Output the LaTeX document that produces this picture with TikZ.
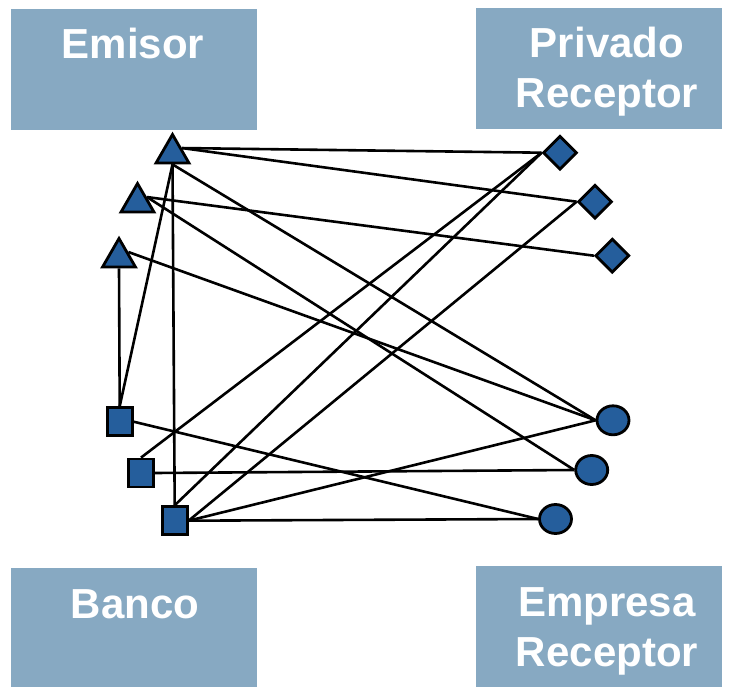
\documentclass[tikz,border=0pt]{standalone}
\usepackage{fontspec}
\setmainfont{Liberation Sans}
\usetikzlibrary{shapes.geometric,backgrounds}
\definecolor{boxblue}{RGB}{135,169,194}
\definecolor{shapeblue}{RGB}{37,94,156}
\begin{document}
\begin{tikzpicture}[x=1pt,y=-1pt,
  groupbox/.style={fill=boxblue, draw=none, inner sep=0pt, minimum width=246pt, minimum height=121pt},
  lbl/.style={text=white, font=\fontsize{42}{50}\selectfont\bfseries, anchor=base, inner sep=0pt},
  shp/.style={fill=shapeblue, draw=black, line width=2.8pt, inner sep=0pt},
  tri/.style={shp, regular polygon, regular polygon sides=3, minimum size=38pt},
  dia/.style={shp, diamond, minimum width=34pt, minimum height=34pt},
  sq/.style={shp, rectangle, minimum width=25pt, minimum height=28pt},
  circ/.style={shp, ellipse, minimum width=32pt, minimum height=29pt},
  link/.style={draw=black, line width=2.6pt}
]
\useasboundingbox (0,0) rectangle (731,687);

% group boxes
\node[groupbox] (emisor) at (134,69.5) {};
\node[groupbox] (privado) at (599,68.5) {};
\node[groupbox, minimum height=119pt] (banco) at (134,627.5) {};
\node[groupbox] (empresa) at (599,626.5) {};

\node[lbl] (emisorT) at (133,59) {Emisor};
\node[lbl] (privadoT1) at (607,58) {Privado};
\node[lbl] (privadoT2) at (607,108) {Receptor};
\node[lbl] (bancoT) at (135,618) {Banco};
\node[lbl] (empresaT1) at (607,616) {Empresa};
\node[lbl] (empresaT2) at (607,666) {Receptor};

% emisores
\node[tri] (t1) at (172.5,153.5) {};
\node[tri] (t2) at (137.5,202.5) {};
\node[tri] (t3) at (119,257.5) {};

% privado receptor
\node[dia] (d1) at (560,152.7) {};
\node[dia] (d2) at (595,201.7) {};
\node[dia] (d3) at (612.3,255.7) {};

% banco
\node[sq] (s1) at (119.7,421.7) {};
\node[sq] (s2) at (141,473) {};
\node[sq] (s3) at (174.7,520.7) {};

% empresa receptor
\node[circ] (c1) at (613,420.3) {};
\node[circ] (c2) at (591.7,470) {};
\node[circ] (c3) at (555.5,519) {};

\begin{scope}[on background layer]
\draw[link] (s1.north) -- (t3.side 2);
\draw[link] (s1.north) -- (t1.side 2);
\draw[link] (s1.east) -- (c3.west);
\draw[link] (t1.side 3) -- (d1.west);
\draw[link] (t1.side 3) -- (d2.west);
\draw[link] (t1.side 2) -- (c1.west);
\draw[link] (t1.side 2) -- (s3.north);
\draw[link] (t2.side 3) -- (d3.west);
\draw[link] (t2.side 3) -- (c2.west);
\draw[link] (t3.side 3) -- (c1.west);
\draw[link] (s2.north) -- (d1.west);
\draw[link] (s2.east) -- (c2.west);
\draw[link] (s3.north) -- (d1.west);
\draw[link] (s3.east) -- (d2.west);
\draw[link] (s3.east) -- (c1.west);
\draw[link] (s3.east) -- (c3.west);
\end{scope}
\end{tikzpicture}
\end{document}
